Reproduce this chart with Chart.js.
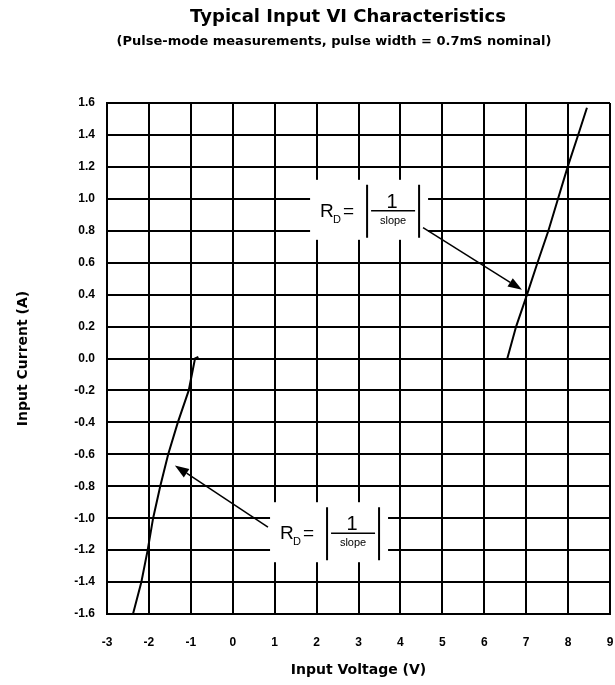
<!DOCTYPE html>
<html>
<head>
<meta charset="utf-8">
<script src="https://cdn.jsdelivr.net/npm/chart.js@4/dist/chart.umd.min.js"></script>
<style>
  html, body { margin: 0; padding: 0; background: #fff; }
  #wrap { width: 615px; height: 685px; position: relative; }
</style>
</head>
<body>
<div id="wrap"><canvas id="c" width="615" height="685"></canvas></div>
<script>
// ---- data ----
const titleText = 'Typical Input VI Characteristics';
const subtitleText = '(Pulse-mode measurements, pulse width = 0.7mS nominal)';
const xAxisTitle = 'Input Voltage (V)';
const yAxisTitle = 'Input Current (A)';
const voltageTicks = [-3, -2, -1, 0, 1, 2, 3, 4, 5, 6, 7, 8, 9];
const currentTicks = [-1.6, -1.4, -1.2, -1.0, -0.8, -0.6, -0.4, -0.2, 0.0, 0.2, 0.4, 0.6, 0.8, 1.0, 1.2, 1.4, 1.6];
const negVoltage = [-2.38, -2.18, -2.03, -1.9, -1.73, -1.54, -1.31, -1.05, -0.9, -0.82];
const negCurrent = [-1.6, -1.4, -1.2, -1.0, -0.8, -0.6, -0.4, -0.2, 0.0, 0.01];
const posVoltage = [6.55, 6.76, 7.02, 7.27, 7.53, 7.76, 7.99, 8.24, 8.45];
const posCurrent = [0.0, 0.2, 0.4, 0.6, 0.8, 1.0, 1.2, 1.4, 1.57];
// annotation anchors in data units: box top-left, arrow start and arrow tip
const noteBoxV = [1.845, 0.89];
const noteBoxI = [1.119, -0.90];
const arrowFromV = [4.54, 0.84];
const arrowFromI = [0.82, -1.056];
const arrowToV = [6.9, -1.38];
const arrowToI = [0.43, -0.67];

const FONT = "'Liberation Sans', Arial, Helvetica, sans-serif";
const WIDE = "'DejaVu Sans', 'Liberation Sans', Arial, sans-serif";

const toPoints = (xs, ys) => xs.map((x, i) => ({ x: x, y: ys[i] }));

const annotPlugin = {
  id: 'annot',
  afterDraw(chart) {
    const ctx = chart.ctx;
    const xs = chart.scales.x, ys = chart.scales.y;
    ctx.save();
    // titles
    ctx.fillStyle = '#000';
    ctx.textAlign = 'center';
    ctx.textBaseline = 'middle';
    ctx.font = 'bold 18px ' + WIDE;
    ctx.fillText(titleText, 348, 17);
    ctx.font = 'bold 13px ' + WIDE;
    ctx.fillText(subtitleText, 334, 42);

    for (let k = 0; k < noteBoxV.length; k++) {
      const bx = xs.getPixelForValue(noteBoxV[k]);
      const by = ys.getPixelForValue(noteBoxI[k]);
      ctx.fillStyle = '#fff';
      ctx.fillRect(bx, by, 118, 60);
      ctx.fillStyle = '#000';
      ctx.strokeStyle = '#000';
      ctx.textBaseline = 'alphabetic';
      ctx.textAlign = 'left';
      ctx.font = '19px ' + FONT;
      ctx.fillText('R', bx + 10, by + 37);
      ctx.font = '11px ' + FONT;
      ctx.fillText('D', bx + 23, by + 43);
      ctx.font = '19px ' + FONT;
      ctx.fillText('=', bx + 33, by + 37);
      ctx.lineWidth = 2;
      ctx.beginPath();
      ctx.moveTo(bx + 57, by + 5); ctx.lineTo(bx + 57, by + 58);
      ctx.moveTo(bx + 109, by + 5); ctx.lineTo(bx + 109, by + 58);
      ctx.stroke();
      ctx.lineWidth = 1.5;
      ctx.beginPath();
      ctx.moveTo(bx + 61, by + 31); ctx.lineTo(bx + 105, by + 31);
      ctx.stroke();
      ctx.textAlign = 'center';
      ctx.font = '20px ' + FONT;
      ctx.fillText('1', bx + 82, by + 28);
      ctx.font = '11px ' + FONT;
      ctx.fillText('slope', bx + 83, by + 44);

      // arrow
      const x0 = xs.getPixelForValue(arrowFromV[k]);
      const y0 = ys.getPixelForValue(arrowFromI[k]);
      const x1 = xs.getPixelForValue(arrowToV[k]);
      const y1 = ys.getPixelForValue(arrowToI[k]);
      const ang = Math.atan2(y1 - y0, x1 - x0);
      const headL = 14, headW = 5;
      const hx = x1 - headL * Math.cos(ang), hy = y1 - headL * Math.sin(ang);
      ctx.lineWidth = 1.5;
      ctx.beginPath();
      ctx.moveTo(x0, y0); ctx.lineTo(hx, hy);
      ctx.stroke();
      ctx.beginPath();
      ctx.moveTo(x1, y1);
      ctx.lineTo(hx + headW * Math.sin(ang), hy - headW * Math.cos(ang));
      ctx.lineTo(hx - headW * Math.sin(ang), hy + headW * Math.cos(ang));
      ctx.closePath();
      ctx.fill();
    }
    ctx.restore();
  }
};

new Chart(document.getElementById('c'), {
  type: 'scatter',
  data: {
    datasets: [
      { label: 'Negative', data: toPoints(negVoltage, negCurrent), showLine: true,
        borderColor: '#000', borderWidth: 2, pointRadius: 0, tension: 0 },
      { label: 'Positive', data: toPoints(posVoltage, posCurrent), showLine: true,
        borderColor: '#000', borderWidth: 2, pointRadius: 0, tension: 0 }
    ]
  },
  options: {
    responsive: false,
    animation: false,
    layout: { padding: { top: 103, right: 5, left: 0, bottom: 0 } },
    plugins: {
      legend: { display: false },
      tooltip: { enabled: false }
    },
    scales: {
      x: {
        type: 'linear',
        min: voltageTicks[0],
        max: voltageTicks[voltageTicks.length - 1],
        afterBuildTicks: (s) => { s.ticks = voltageTicks.map(v => ({ value: v })); },
        afterFit: (s) => { s.height = 71; s.paddingLeft = 0; s.paddingRight = 0; },
        grid: { color: '#000', lineWidth: 2, drawTicks: false },
        border: { display: true, color: '#000', width: 2 },
        ticks: {
          color: '#000', padding: 21, maxRotation: 0, autoSkip: false,
          font: { family: FONT, size: 12, weight: 'bold' },
          callback: (v) => String(v)
        },
        title: {
          display: true, text: xAxisTitle, color: '#000',
          font: { family: WIDE, size: 14, weight: 'bold' },
          padding: { top: 0, bottom: 6 }
        }
      },
      y: {
        type: 'linear',
        min: currentTicks[0],
        max: currentTicks[currentTicks.length - 1],
        afterBuildTicks: (s) => { s.ticks = currentTicks.map(v => ({ value: v })); },
        afterFit: (s) => { s.width = 107; s.paddingTop = 0; s.paddingBottom = 0; },
        grid: { color: '#000', lineWidth: 2, drawTicks: false },
        border: { display: true, color: '#000', width: 2 },
        ticks: {
          color: '#000', padding: 12, autoSkip: false,
          font: { family: FONT, size: 12, weight: 'bold' },
          callback: (v) => Number(v).toFixed(1)
        },
        title: {
          display: true, text: yAxisTitle, color: '#000',
          font: { family: WIDE, size: 14, weight: 'bold' },
          padding: { top: 15, bottom: 0 }
        }
      }
    }
  },
  plugins: [annotPlugin]
});
</script>
</body>
</html>
